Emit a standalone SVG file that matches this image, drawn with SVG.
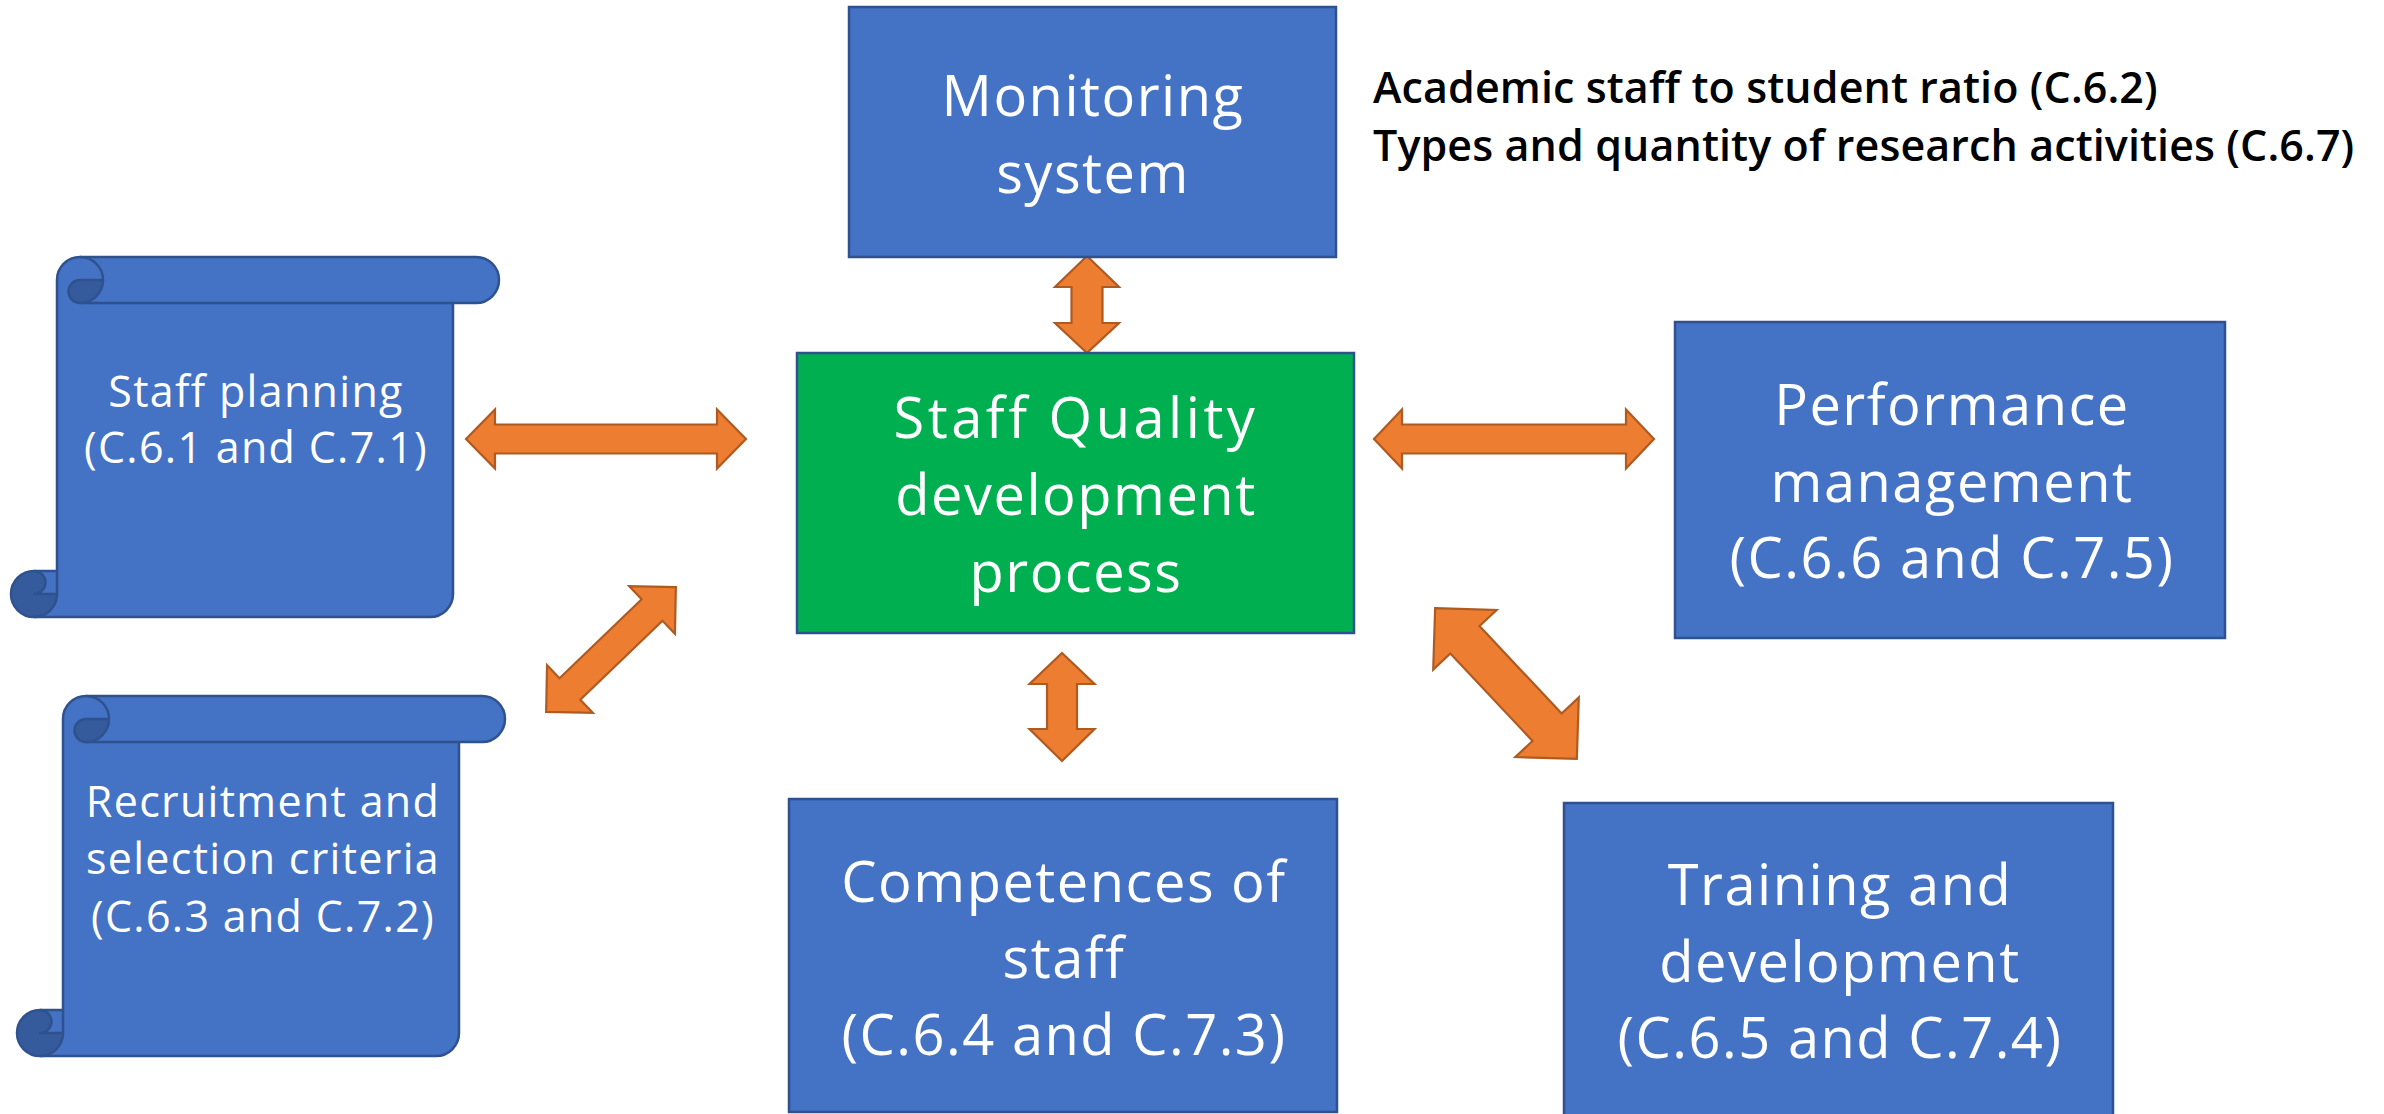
<svg xmlns="http://www.w3.org/2000/svg" xmlns:xlink="http://www.w3.org/1999/xlink" width="2384" height="1114" viewBox="0 0 2384 1114">
<style>
.box{fill:#4472C4;stroke:#2F528F;stroke-width:2.5}
.green{fill:#00B050;stroke:#2F528F;stroke-width:2.5}
.big{font-family:"Open Sans","Noto Sans",sans-serif;font-size:56px;font-weight:500;letter-spacing:1.5px;fill:#FFFFFF;text-anchor:middle}
.small{font-family:"Open Sans","Noto Sans",sans-serif;font-size:43px;font-weight:500;letter-spacing:1.3px;fill:#FFFFFF;text-anchor:middle}
.note{font-family:"Open Sans","Noto Sans",sans-serif;font-size:43px;font-weight:600;letter-spacing:0.1px;fill:#000000}
.arrow{fill:#ED7D31;stroke:#AE5A21;stroke-width:2.2;stroke-linejoin:miter}
.light{fill:#4472C4;stroke:none}
.dark{fill:#365B9D;stroke:none}
.line{fill:none;stroke:#2F528F;stroke-width:2.5;stroke-linejoin:round}
</style>
<defs>
<g id="scroll">
<path class="light" d="M23,314 L46,314 L46,23 A23,23 0 0 1 69,0 L465,0 A23,23 0 0 1 465,46 L442,46 L442,337 A23,23 0 0 1 419,360 L23,360 Z"/>
<path class="dark" d="M23,314 A23,23 0 1 0 46,337 L23,337 A11.5,11.5 0 0 0 23,314 Z"/>
<path class="dark" d="M69,23 L92,23 A23,23 0 0 1 69,46 A11.5,11.5 0 0 1 69,23 Z"/>
<path class="line" d="M46,337 L46,23 A23,23 0 0 1 69,0 L465,0 A23,23 0 0 1 465,46 L442,46 L442,337 A23,23 0 0 1 419,360 L23,360 A23,23 0 0 1 23,314 L46,314"/>
<path class="line" d="M69,46 L442,46"/>
<path class="line" d="M69,0 A23,23 0 0 1 69,46 A11.5,11.5 0 0 1 69,23 L92,23"/>
<path class="line" d="M23,314 A11.5,11.5 0 0 1 23,337 L46,337 A23,23 0 0 1 23,360"/>
</g>
</defs>
<rect width="2384" height="1114" fill="#FFFFFF"/>

<g id="connectors">
<polygon class="arrow" points="466,439 495,409.5 495,424.5 717,424.5 717,409.5 746,439 717,468.5 717,453.5 495,453.5 495,468.5"/>
<polygon class="arrow" points="1374,439 1402,409.5 1402,424.5 1626,424.5 1626,409.5 1654,439 1626,468.5 1626,453.5 1402,453.5 1402,468.5"/>
<polygon class="arrow" points="1087,256 1119,287 1102.5,287 1102.5,323 1119,323 1087,353 1055,323 1071.5,323 1071.5,287 1055,287"/>
<polygon class="arrow" points="1062,653 1094.5,684 1077,684 1077,729 1094.5,729 1062,761 1029.5,729 1047,729 1047,684 1029.5,684"/>
<polygon class="arrow" transform="translate(611,649.5) rotate(-43.9)" points="-90,0 -57,-33 -57,-15 57,-15 57,-33 90,0 57,33 57,15 -57,15 -57,33"/>
<polygon class="arrow" transform="translate(1506,683.5) rotate(46.8)" points="-103.5,0 -60,-43.5 -60,-20 60,-20 60,-43.5 103.5,0 60,43.5 60,20 -60,20 -60,43.5"/>
</g>

<g id="monitoring">
<rect class="box" x="849" y="7" width="487" height="250"/>
<text class="big" x="1093" y="116">Monitoring</text>
<text class="big" x="1093" y="193">system</text>
</g>

<g id="note">
<text class="note" x="1373" y="103">Academic staff to student ratio (C.6.2)</text>
<text class="note" x="1373" y="161">Types and quantity of research activities (C.6.7)</text>
</g>

<g id="staff-planning">
<use xlink:href="#scroll" href="#scroll" transform="translate(11,257)"/>
<text class="small" x="256" y="407">Staff planning</text>
<text class="small" x="256" y="463">(C.6.1 and C.7.1)</text>
</g>

<g id="recruitment">
<use xlink:href="#scroll" href="#scroll" transform="translate(17,696)"/>
<text class="small" x="263" y="817">Recruitment and</text>
<text class="small" x="263" y="874">selection criteria</text>
<text class="small" x="263" y="932">(C.6.3 and C.7.2)</text>
</g>

<g id="staff-quality">
<rect class="green" x="797" y="353" width="557" height="280"/>
<text class="big" x="1076" y="438" style="letter-spacing:3.5px">Staff Quality</text>
<text class="big" x="1076" y="515">development</text>
<text class="big" x="1076" y="592">process</text>
</g>

<g id="performance">
<rect class="box" x="1675" y="322" width="550" height="316"/>
<text class="big" x="1952" y="425">Performance</text>
<text class="big" x="1952" y="502">management</text>
<text class="big" x="1952" y="578">(C.6.6 and C.7.5)</text>
</g>

<g id="competences">
<rect class="box" x="789" y="799" width="548" height="313"/>
<text class="big" x="1064" y="902">Competences of</text>
<text class="big" x="1064" y="978">staff</text>
<text class="big" x="1064" y="1055">(C.6.4 and C.7.3)</text>
</g>

<g id="training">
<rect class="box" x="1564" y="803" width="549" height="320"/>
<text class="big" x="1840" y="905">Training and</text>
<text class="big" x="1840" y="982">development</text>
<text class="big" x="1840" y="1058">(C.6.5 and C.7.4)</text>
</g>
</svg>
